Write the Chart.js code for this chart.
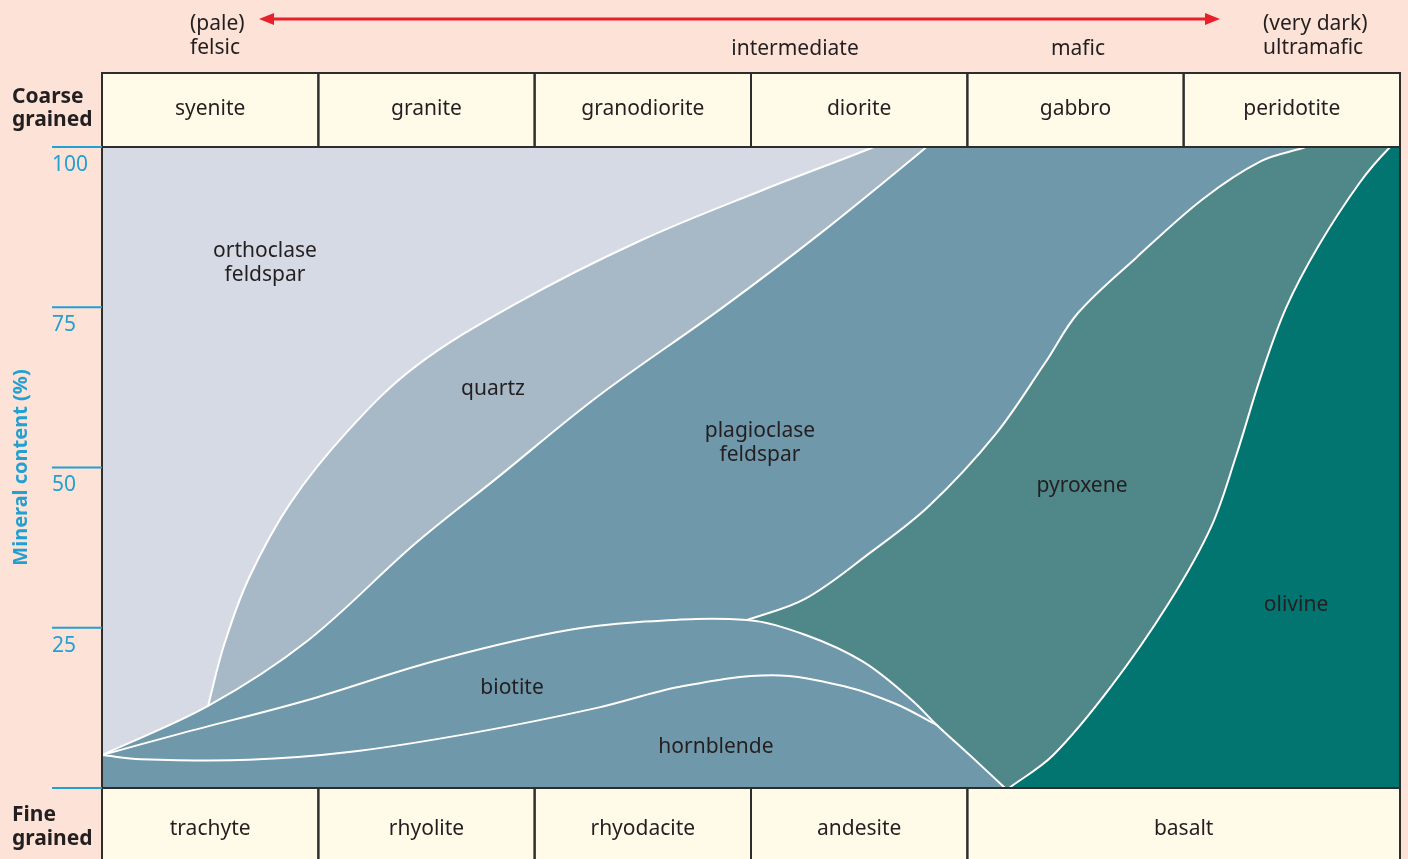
<!DOCTYPE html>
<html>
<head>
<meta charset="utf-8">
<title>Igneous rock classification</title>
<script src="https://cdn.jsdelivr.net/npm/chart.js@4.4.1/dist/chart.umd.min.js"></script>
<style>
  html, body { margin: 0; padding: 0; background: #fde2d7; overflow: hidden; }
  canvas { display: block; }
</style>
</head>
<body>
<canvas id="rockChart" width="1408" height="859"></canvas>
<script>
// x = position across the rock series (0 = felsic side, 100 = ultramafic side)
// y = mineral content in % (cumulative boundary)

// orthoclase / quartz boundary
const quartzTopX = [8.17, 9.40, 11.33, 14.56, 19.03, 24.11, 31.82, 41.37, 50.92, 59.24, 62.0, 100];
const quartzTopY = [12.8, 22.3, 32.8, 44.6, 55.9, 65.7, 75.5, 85.3, 93.3, 99.8, 102.2, 102.2];

// quartz (or orthoclase) / plagioclase boundary
const plagTopX = [0, 8.17, 15.79, 24.11, 30.51, 38.14, 47.77, 55.39, 63.41, 65.5, 100];
const plagTopY = [5.15, 12.8, 22.9, 38.1, 48.5, 61.0, 74.9, 86.6, 99.8, 103.5, 103.5];

// plagioclase / pyroxene boundary
const pyroxeneTopX = [49.69, 54.16, 59.24, 63.71, 68.80, 72.65, 75.19, 79.66, 84.82, 89.29, 92.45, 94.5, 100];
const pyroxeneTopY = [26.2, 29.5, 36.8, 44.0, 55.1, 66.3, 74.1, 82.7, 91.9, 97.8, 99.8, 101.0, 101.0];

// biotite upper boundary
const biotiteTopX = [0, 6.24, 15.79, 25.42, 34.98, 41.37, 49.69, 54.16, 58.63, 62.40, 64.33, 66.87, 69.57];
const biotiteTopY = [5.15, 8.6, 13.7, 19.7, 24.3, 25.9, 26.2, 23.9, 19.7, 13.7, 9.8, 5.1, 0];

// biotite / hornblende boundary
const hornblendeTopX = [0, 3.0, 11.33, 19.03, 28.58, 38.14, 44.53, 51.62, 57.32, 61.17, 64.33];
const hornblendeTopY = [5.15, 4.5, 4.4, 5.6, 8.6, 12.5, 15.8, 17.6, 15.8, 13.1, 9.8];

// pyroxene / olivine boundary
const olivineTopX = [69.88, 73.27, 77.73, 82.20, 85.44, 87.37, 89.29, 91.22, 93.76, 96.92, 99.15, 101.0];
const olivineTopY = [0, 5.1, 15.8, 28.9, 40.7, 51.8, 64.3, 74.9, 84.7, 94.5, 99.8, 103.0];

const yTicks = [0, 25, 50, 75, 100];
const yTickLabels = ['', '25', '50', '75', '100'];

const coarseNames = ['syenite', 'granite', 'granodiorite', 'diorite', 'gabbro', 'peridotite'];
const coarseEdges = [0, 16.67, 33.33, 50, 66.67, 83.33, 100];
const fineNames = ['trachyte', 'rhyolite', 'rhyodacite', 'andesite', 'basalt'];
const fineEdges = [0, 16.67, 33.33, 50, 66.67, 100];

const mineralNames = [['orthoclase', 'feldspar'], ['quartz'], ['plagioclase', 'feldspar'], ['pyroxene'], ['olivine'], ['biotite'], ['hornblende']];
const mineralLabelX = [12.56, 30.12, 50.69, 75.5, 91.99, 31.59, 47.3];
const mineralLabelY = [82.2, 62.56, 54.13, 47.43, 28.86, 15.91, 6.71];

const colors = {
    page: '#fde2d7',
    orthoclase: '#d5dae5',
    quartz: '#a7b8c6',
    plagioclase: '#6f98aa',
    pyroxene: '#508789',
    olivine: '#027571',
    cream: '#fffbe8',
    border: '#2d2d2d',
    cyan: '#22a0d2',
    red: '#e8202a',
    text: '#231f20'
};

const FONT = "'Noto Sans', sans-serif";

function toPoints(xs, ys) {
    return xs.map((x, i) => ({ x: x, y: ys[i] }));
}

function areaSet(xs, ys, color) {
    return {
        data: toPoints(xs, ys),
        backgroundColor: color,
        borderWidth: 0,
        fill: 'start',
        pointRadius: 0,
        tension: 0.35,
        clip: 0
    };
}

function lineSet(xs, ys) {
    return {
        data: toPoints(xs, ys),
        borderColor: '#ffffff',
        borderWidth: 2,
        fill: false,
        pointRadius: 0,
        tension: 0.35,
        clip: 0
    };
}

// painting order: first entry is painted first
const layers = [
    areaSet([0, 100], [100, 100], colors.orthoclase),
    areaSet(quartzTopX, quartzTopY, colors.quartz),
    areaSet(plagTopX, plagTopY, colors.plagioclase),
    areaSet(pyroxeneTopX, pyroxeneTopY, colors.pyroxene),
    areaSet(biotiteTopX, biotiteTopY, colors.plagioclase),
    areaSet(olivineTopX, olivineTopY, colors.olivine),
    lineSet(quartzTopX, quartzTopY),
    lineSet(plagTopX, plagTopY),
    lineSet(pyroxeneTopX, pyroxeneTopY),
    lineSet(biotiteTopX, biotiteTopY),
    lineSet(hornblendeTopX, hornblendeTopY),
    lineSet(olivineTopX, olivineTopY)
];
layers.forEach((ds, i) => { ds.order = layers.length - i; });

function drawBoxRow(ctx, xScale, edges, names, top, bottom, textY) {
    ctx.fillStyle = colors.cream;
    ctx.fillRect(xScale.getPixelForValue(0), top, xScale.getPixelForValue(100) - xScale.getPixelForValue(0), bottom - top);
    ctx.strokeStyle = colors.border;
    ctx.lineWidth = 2;
    for (let i = 0; i < names.length; i++) {
        const x0 = xScale.getPixelForValue(edges[i]);
        const x1 = xScale.getPixelForValue(edges[i + 1]);
        ctx.strokeRect(x0, top, x1 - x0, bottom - top);
        ctx.fillStyle = colors.text;
        ctx.font = '21px ' + FONT;
        ctx.textAlign = 'center';
        ctx.textBaseline = 'middle';
        ctx.fillText(names[i], (x0 + x1) / 2, textY);
    }
}

const decorPlugin = {
    id: 'decor',
    beforeDraw(chart) {
        const ctx = chart.ctx;
        ctx.save();
        ctx.fillStyle = colors.page;
        ctx.fillRect(0, 0, chart.width, chart.height);
        ctx.restore();
    },
    afterDraw(chart) {
        const ctx = chart.ctx;
        const area = chart.chartArea;
        const xs = chart.scales.x;
        const ys = chart.scales.y;
        ctx.save();

        // mineral names inside the plot
        ctx.fillStyle = colors.text;
        ctx.font = '21px ' + FONT;
        ctx.textAlign = 'center';
        ctx.textBaseline = 'middle';
        mineralNames.forEach((lines, i) => {
            const cx = xs.getPixelForValue(mineralLabelX[i]);
            const cy = ys.getPixelForValue(mineralLabelY[i]) + 2;
            lines.forEach((t, j) => {
                ctx.fillText(t, cx, cy + (j - (lines.length - 1) / 2) * 24);
            });
        });

        // rock name rows
        drawBoxRow(ctx, xs, coarseEdges, coarseNames, 73, area.top, 109);
        drawBoxRow(ctx, xs, fineEdges, fineNames, area.bottom, 862, 829);

        // frame sides of the plot
        ctx.strokeStyle = colors.border;
        ctx.lineWidth = 2;
        ctx.beginPath();
        ctx.moveTo(area.left, 73); ctx.lineTo(area.left, 862);
        ctx.moveTo(area.right, 73); ctx.lineTo(area.right, 862);
        ctx.stroke();

        // y ticks
        ctx.strokeStyle = colors.cyan;
        ctx.fillStyle = colors.cyan;
        ctx.lineWidth = 2;
        ctx.textAlign = 'left';
        ctx.textBaseline = 'middle';
        ctx.font = '21px ' + FONT;
        yTicks.forEach((v, i) => {
            const py = ys.getPixelForValue(v);
            ctx.beginPath();
            ctx.moveTo(52, py);
            ctx.lineTo(area.left, py);
            ctx.stroke();
            ctx.fillText(yTickLabels[i], 52, py + 18);
        });

        // axis title
        ctx.save();
        ctx.translate(21, (area.top + area.bottom) / 2);
        ctx.rotate(-Math.PI / 2);
        ctx.font = 'bold 20px ' + FONT;
        ctx.textAlign = 'center';
        ctx.fillText('Mineral content (%)', 0, 0);
        ctx.restore();

        // row titles
        ctx.fillStyle = colors.text;
        ctx.font = 'bold 21px ' + FONT;
        ctx.textAlign = 'left';
        ctx.fillText('Coarse', 12, 97);
        ctx.fillText('grained', 12, 120);
        ctx.fillText('Fine', 12, 815);
        ctx.fillText('grained', 12, 839);

        // colour scale on top
        ctx.font = '21px ' + FONT;
        ctx.fillText('(pale)', 190, 24);
        ctx.fillText('felsic', 190, 48);
        ctx.fillText('(very dark)', 1263, 24);
        ctx.fillText('ultramafic', 1263, 48);
        ctx.textAlign = 'center';
        ctx.fillText('intermediate', 795, 49);
        ctx.fillText('mafic', 1078, 49);

        ctx.strokeStyle = colors.red;
        ctx.fillStyle = colors.red;
        ctx.lineWidth = 3;
        ctx.beginPath();
        ctx.moveTo(270, 19);
        ctx.lineTo(1208, 19);
        ctx.stroke();
        ctx.beginPath();
        ctx.moveTo(259, 19); ctx.lineTo(274, 13); ctx.lineTo(274, 25); ctx.closePath();
        ctx.moveTo(1220, 19); ctx.lineTo(1205, 13); ctx.lineTo(1205, 25); ctx.closePath();
        ctx.fill();

        ctx.restore();
    }
};

new Chart(document.getElementById('rockChart'), {
    type: 'line',
    data: { datasets: layers },
    options: {
        responsive: false,
        animation: false,
        layout: { padding: { left: 102, right: 8, top: 147, bottom: 71 } },
        elements: { line: { capBezierPoints: false } },
        plugins: {
            legend: { display: false },
            tooltip: { enabled: false },
            filler: { propagate: false }
        },
        scales: {
            x: { type: 'linear', min: 0, max: 100, display: false },
            y: { type: 'linear', min: 0, max: 100, display: false }
        }
    },
    plugins: [decorPlugin]
});
</script>
</body>
</html>
